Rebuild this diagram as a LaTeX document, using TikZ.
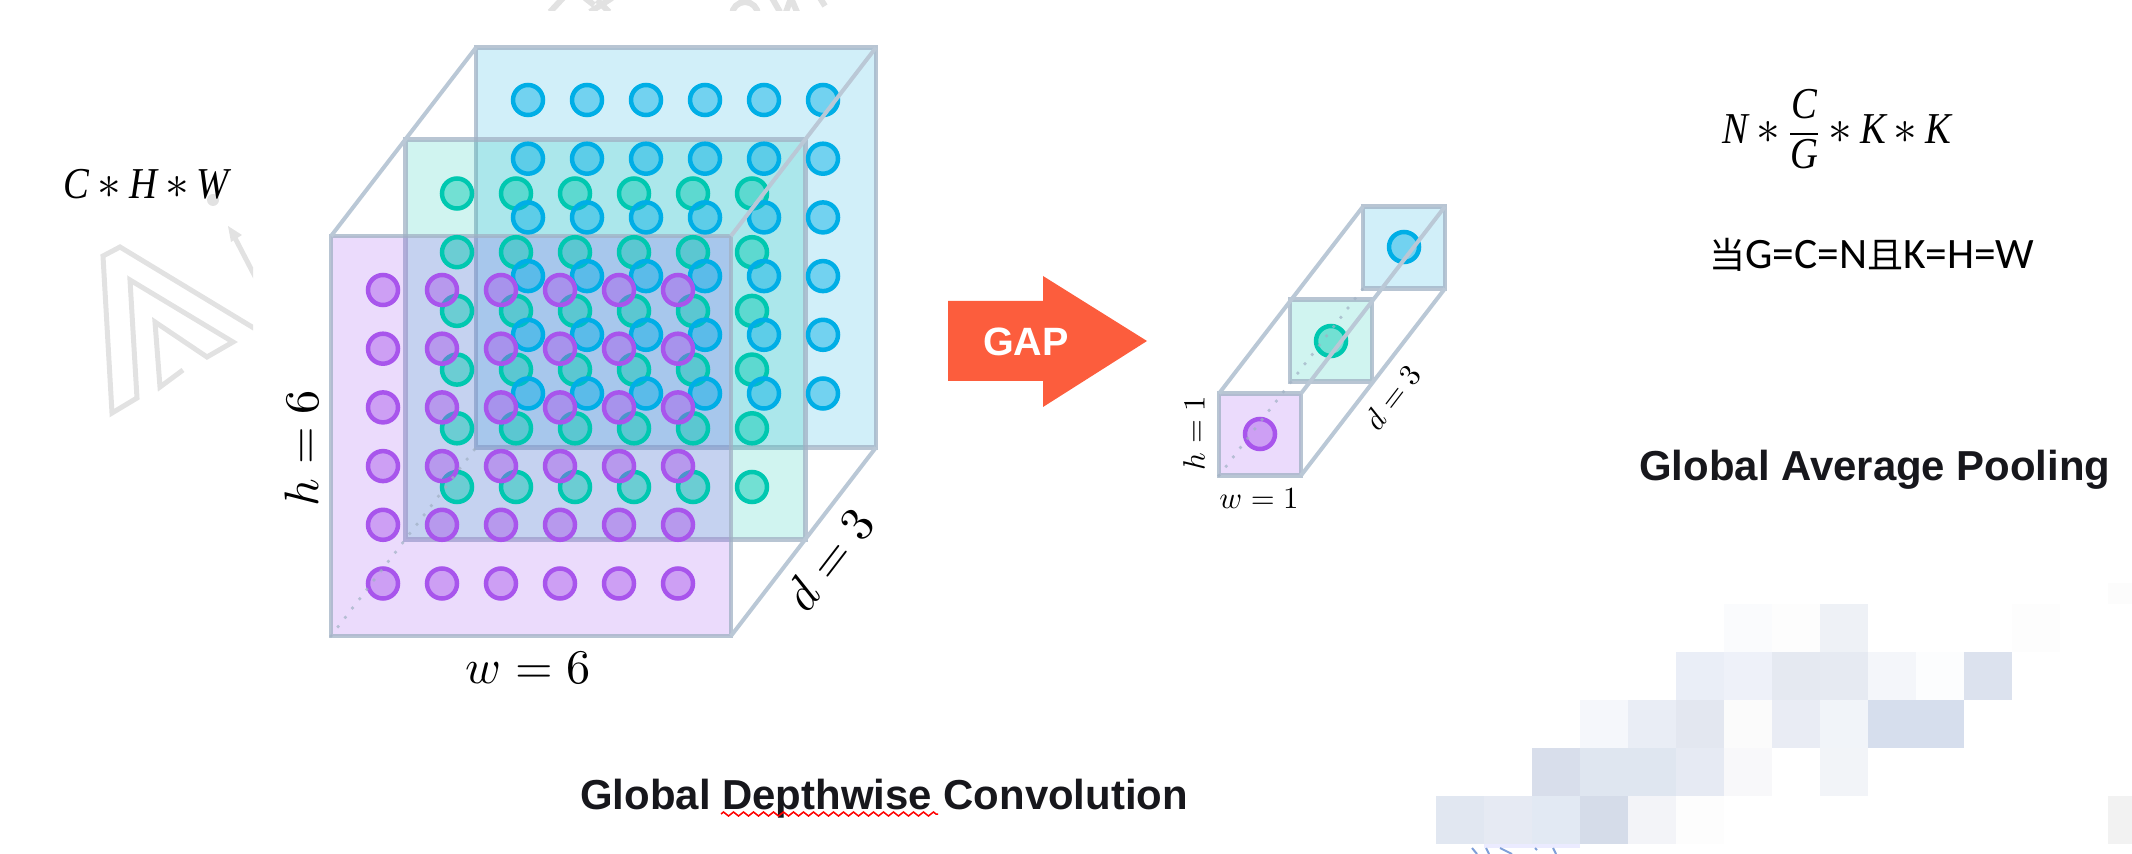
\documentclass[tikz,border=0pt]{standalone}
\usepackage{amsmath}
\usepackage{fontspec}
\usetikzlibrary{positioning, decorations.pathmorphing}

\setsansfont{Liberation Sans}
\newfontfamily\cjkfont{Noto Sans CJK SC}
\newfontfamily\califont{Carlito}
\newfontfamily\formfont{Liberation Serif}
\newcommand{\fv}[1]{\mbox{\scalebox{1}[1.14]{\formfont\itshape #1}}}
\newcommand{\fs}{\mathbin{\scalebox{1.3}{$*$}}}

\definecolor{purpleS}{HTML}{A855EC}
\definecolor{greenS}{HTML}{00C8B0}
\definecolor{blueS}{HTML}{00AEE6}
\definecolor{purpleF}{HTML}{9B4BF0}
\definecolor{greenF}{HTML}{14C8B4}
\definecolor{blueF}{HTML}{19AFE1}
\definecolor{sheetline}{HTML}{A0B1C4}
\definecolor{edgeline}{HTML}{BAC8D6}
\definecolor{arrowred}{HTML}{FC5D3D}
\definecolor{titleink}{HTML}{17171C}
\definecolor{markgray}{HTML}{E2E2E2}
\definecolor{scrapblue}{HTML}{7F9FD8}

\tikzset{
	sheet/.style={draw=sheetline, draw opacity=0.75, fill opacity=0.2, line width=0.09cm, inner sep=0pt, outer sep=0pt},
	bigsheet/.style={sheet, minimum size=8cm},
	smallsheet/.style={sheet, minimum size=1.64cm},
	unit/.style={circle, line width=0.09cm, minimum size=0.6cm, inner sep=0pt, fill opacity=0.45},
	edge/.style={draw=edgeline, line width=0.08cm},
	hidden/.style={draw=sheetline, draw opacity=0.7, line width=0.075cm, line cap=round, dash pattern=on 0pt off 0.235cm},
	bigmath/.style={scale=2.75, transform shape},
	smallmath/.style={scale=1.75, transform shape},
	formula/.style={font=\fontsize{22}{26}\selectfont, inner sep=0pt},
	title/.style={font=\sffamily\bfseries\fontsize{23.85}{28}\selectfont, text=titleink, anchor=base west, inner sep=0pt},
}

\begin{document}
\begin{tikzpicture}[x=0.02cm, y=-0.02cm]
	\useasboundingbox (0,0) rectangle (2132,854);

	% faint marks behind the drawing
	\begin{scope}
		\clip (0,0) rectangle (253,450);
		\draw[markgray, line width=0.1cm] (262,333) -- (120,247) -- (103,256) -- (112,413) -- (137,398) -- (130,280) -- (233,342) -- (207,357) -- (155,322) -- (160,387) -- (183,370);
		\draw[markgray, line width=0.1cm] (262,290) -- (235,238);
		\fill[markgray] (228,226) -- (242,235) -- (231,242) -- cycle;
		\fill[markgray] (213,200) circle (6);
	\end{scope}
	\begin{scope}
		\clip (520,0) rectangle (840,11);
		\draw[markgray, line width=0.12cm] (550,12) -- (563,-2) (585,-2) -- (594,5) (590,12) -- (612,-2) (597,0) -- (609,12);
		\draw[markgray, line width=0.12cm] (745,15) circle (13);
		\draw[markgray, line width=0.12cm] (772,-2) -- (780,12) (786,12) -- (791,-2) -- (797,12) (820,-2) -- (825,6);
	\end{scope}

	% mosaic
	\foreach \cx/\cy/\ctone in {
		6/0/FAFBFD, 7/0/FDFDFD, 8/0/EEF1F6, 12/0/FDFDFD,
		5/1/EAEEF7, 6/1/EEF1F9, 7/1/E5E9F1, 8/1/E6EAF2, 9/1/F4F6FA, 10/1/FCFDFE, 11/1/DCE2EE,
		3/2/F5F7FB, 4/2/E9EDF5, 5/2/E3E7F0, 6/2/FBFBFB, 7/2/E9ECF4, 8/2/F1F4F9, 9/2/D6DEED, 10/2/D6DEED,
		2/3/D8DEEB, 3/3/DFE6F0, 4/3/DFE6F0, 5/3/E6EAF3, 6/3/F8F8FA, 8/3/F2F4F8,
		0/4/E1E7F1, 1/4/E6EAF3, 2/4/E2E9F3, 3/4/D5DCE9, 4/4/F3F4F8, 5/4/FDFDFD}{
		\definecolor{celltone}{HTML}{\ctone}
		\fill[celltone] (1436+48*\cx,604+48*\cy) rectangle +(48,48);
	}
	\fill[black!5] (2108,796) rectangle (2132,844);
	\fill[black!1] (2108,583) rectangle (2132,604);
	\fill[blue!20!white, opacity=0.4] (1484,844) rectangle (1580,848);
	\draw[scrapblue, line width=0.04cm] (1472,848) -- (1477,854) (1486,848) -- (1489,854) (1500,848) -- (1512,854) (1535,848) -- (1537,850) (1553,848) -- (1556,854);

	% big block
	\node (backbig) [bigsheet, fill=blueF] at (676,247.5) {};
	\node (midbig) [bigsheet, fill=greenF] at (605.5,339.5) {};
	\node (frontbig) [bigsheet, fill=purpleF] at (531,436) {};

	\foreach \i in {0,...,5}{
		\foreach \j in {0,...,5}{
			\node (g\i\j) [unit, draw=greenS, fill=greenS] at (457+59*\i,193.5+58.7*\j) {};
		}
	}
	\foreach \i in {0,...,5}{
		\foreach \j in {0,...,5}{
			\node (b\i\j) [unit, draw=blueS, fill=blueS] at (528+59*\i,100+58.7*\j) {};
		}
	}
	\foreach \i in {0,...,5}{
		\foreach \j in {0,...,5}{
			\node (p\i\j) [unit, draw=purpleS, fill=purpleS] at (383+59*\i,290+58.7*\j) {};
		}
	}

	\draw[edge] (frontbig.north west) -- (backbig.north west);
	\draw[edge] (frontbig.north east) -- (backbig.north east);
	\draw[edge] (frontbig.south east) -- (backbig.south east);
	\draw[hidden] (frontbig.south west) -- (backbig.south west);

	\node (wbig) [bigmath] at (528,668) {$w=6$};
	\node (hbig) [bigmath, rotate=90] at (302,448) {$h=6$};
	\node (dbig) [bigmath, rotate=52.5] at (829,559) {$d=3$};

	% arrow
	\fill[arrowred] (948,301) -- (1043,301) -- (1043,276) -- (1147,341) -- (1043,407) -- (1043,381) -- (948,381) -- cycle;
	\node (gap) [font=\sffamily\bfseries\fontsize{22.5}{26}\selectfont, text=white, inner sep=0pt] at (1026,342) {GAP};

	% small block
	\node (backsmall) [smallsheet, fill=blueF] at (1404,247.5) {};
	\node (midsmall) [smallsheet, fill=greenF] at (1331,340.5) {};
	\node (frontsmall) [smallsheet, fill=purpleF] at (1260,434.5) {};

	\node (bsmall) [unit, draw=blueS, fill=blueS] at (1404,247) {};
	\node (gsmall) [unit, draw=greenS, fill=greenS] at (1331,341) {};
	\node (psmall) [unit, draw=purpleS, fill=purpleS] at (1260,434) {};

	\draw[edge] (frontsmall.north west) -- (backsmall.north west);
	\draw[edge] (frontsmall.north east) -- (backsmall.north east);
	\draw[edge] (frontsmall.south east) -- (backsmall.south east);
	\draw[hidden] (frontsmall.south west) -- (backsmall.south west);

	\node (wsmall) [smallmath] at (1259,499) {$w=1$};
	\node (hsmall) [smallmath, rotate=90] at (1194,433) {$h=1$};
	\node (dsmall) [smallmath, rotate=52.5] at (1392,397) {$d=3$};

	% text
	\node (shape) [formula, anchor=base west] at (63,199) {$\fv{C}\fs\fv{H}\fs\fv{W}$};
	\node (result) [formula, anchor=west] at (1722,129) {$\fv{N}\fs\dfrac{\fv{C}}{\fv{G}}\fs\fv{K}\fs\fv{K}$};
	\node (cond) [anchor=base west, inner sep=0pt, font=\califont\fontsize{24.7}{28}\selectfont] at (1709,269) {{\cjkfont\fontsize{20.5}{28}\selectfont 当}G=C=N{\cjkfont\fontsize{20.5}{28}\selectfont 且}K=H=W};

	\node (gaptitle) [title] at (1639,480) {Global Average Pooling};
	\node (gdctitle) [title] at (580,809) {Global Depthwise Convolution};
	\coordinate (wavyl) at (721,814);
	\coordinate (wavyr) at (938,814);
	\draw[red, line width=0.03cm, decorate, decoration={zigzag, amplitude=0.04cm, segment length=0.2cm}] (wavyl) -- (wavyr);
\end{tikzpicture}
\end{document}
